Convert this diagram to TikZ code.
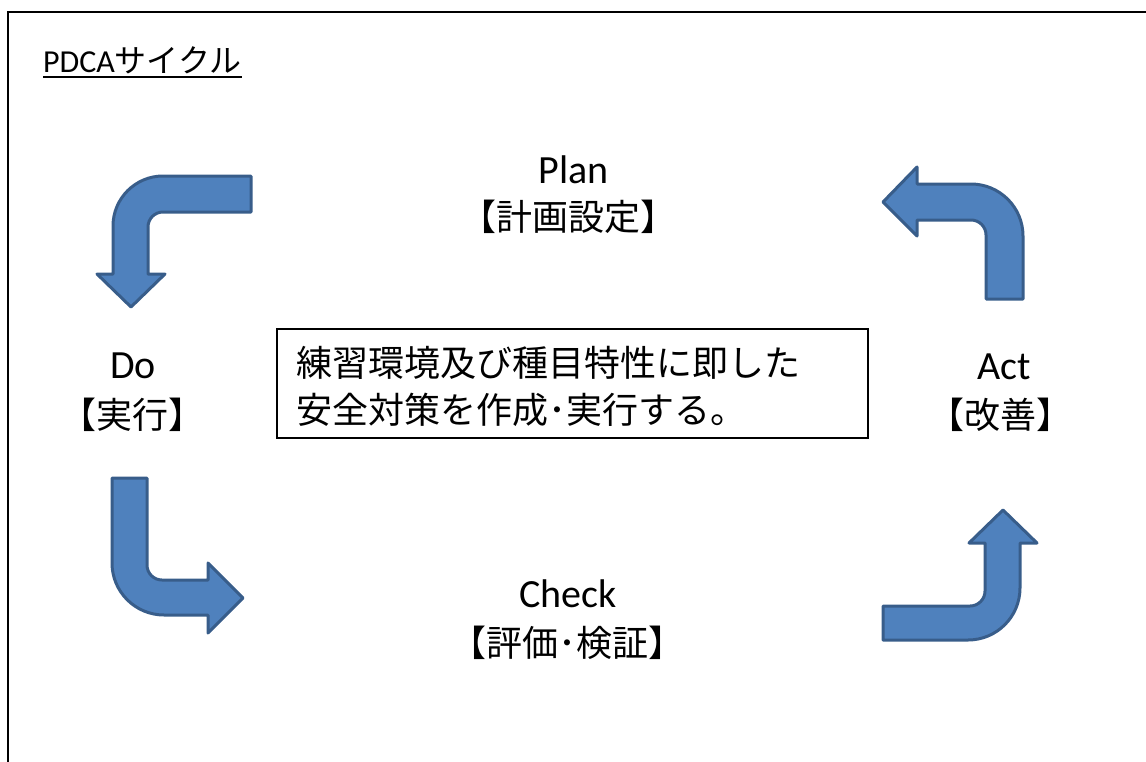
\documentclass[tikz,border=0pt]{standalone}
\usepackage{fontspec}
\setmainfont{Carlito}
\newfontfamily\jp{Noto Sans CJK JP}
\definecolor{arrowfill}{HTML}{4F81BD}
\definecolor{arrowline}{HTML}{385D8A}
\begin{document}
\begin{tikzpicture}[x=1pt,y=1pt,
  bentarrow/.style={fill=arrowfill,draw=arrowline,line width=3pt,line join=round},
  latinlabel/.style={inner sep=0pt,anchor=base,font=\fontsize{40}{40}\selectfont},
  jplabel/.style={inner sep=0pt,anchor=center,font=\fontsize{36}{36}\selectfont\jp},
  boxtext/.style={inner sep=0pt,anchor=west,font=\fontsize{36}{36}\selectfont\jp}]
\useasboundingbox (0,0) rectangle (1146,-761);
% frame
\draw[line width=2pt] (8,-770) -- (8,-11.5) -- (1150,-11.5);
% heading
\node[inner sep=0pt,anchor=base west,font=\fontsize{32}{32}\selectfont] (head) at (43,-72) {PDCA{\jp サイクル}};
\draw[line width=1.5pt] ([yshift=-5pt]head.base west) -- ([yshift=-5pt]head.base east);
% labels
\node[latinlabel] (plan) at (574,-183) {Plan};
\node[jplabel] (planj) at (568,-217) {【計画設定】};
\node[latinlabel] (do) at (133,-378) {Do};
\node[jplabel] (doj) at (132,-415) {【実行】};
\node[latinlabel] (act) at (1004,-379) {Act};
\node[jplabel] (actj) at (1000,-415) {【改善】};
\node[latinlabel] (check) at (568,-607) {Check};
\node[jplabel] (checkj) at (567,-643) {【評価･検証】};
% center box
\node[draw,line width=1.8pt,minimum width=591pt,minimum height=109pt,inner sep=0pt] (box) at (572.5,-383.5) {};
\node[boxtext] (boxl1) at (296,-363) {練習環境及び種目特性に即した};
\node[boxtext] (boxl2) at (296,-410) {安全対策を作成･実行する。};
% arrow Plan -> Do (left then down)
\path[bentarrow] (251,-176) -- (163,-176) arc[start angle=90,end angle=180,radius=50]
  -- (113,-274) -- (97,-274) -- (131,-307) -- (165,-274) -- (148,-274) -- (148,-227)
  arc[start angle=180,end angle=90,radius=15] -- (251,-212) -- cycle;
% arrow Do -> Check (down then right)
\path[bentarrow] (112,-478) -- (112,-563) arc[start angle=180,end angle=270,radius=52]
  -- (208,-615) -- (208,-633) -- (243,-598) -- (208,-563) -- (208,-580) -- (162,-580)
  arc[start angle=270,end angle=180,radius=15] -- (147,-478) -- cycle;
% arrow Check -> Act (right then up)
\path[bentarrow] (883,-606) -- (970,-606) arc[start angle=270,end angle=360,radius=15]
  -- (985,-543) -- (969,-543) -- (1003,-510) -- (1037,-543) -- (1020,-543) -- (1020,-588)
  arc[start angle=0,end angle=-90,radius=52] -- (883,-640) -- cycle;
% arrow Act -> Plan (up then left)
\path[bentarrow] (1023,-299) -- (1023,-236) arc[start angle=0,end angle=90,radius=52]
  -- (917,-184) -- (917,-167) -- (883,-202) -- (917,-236) -- (917,-220) -- (971,-220)
  arc[start angle=90,end angle=0,radius=15] -- (986,-299) -- cycle;
\end{tikzpicture}
\end{document}
